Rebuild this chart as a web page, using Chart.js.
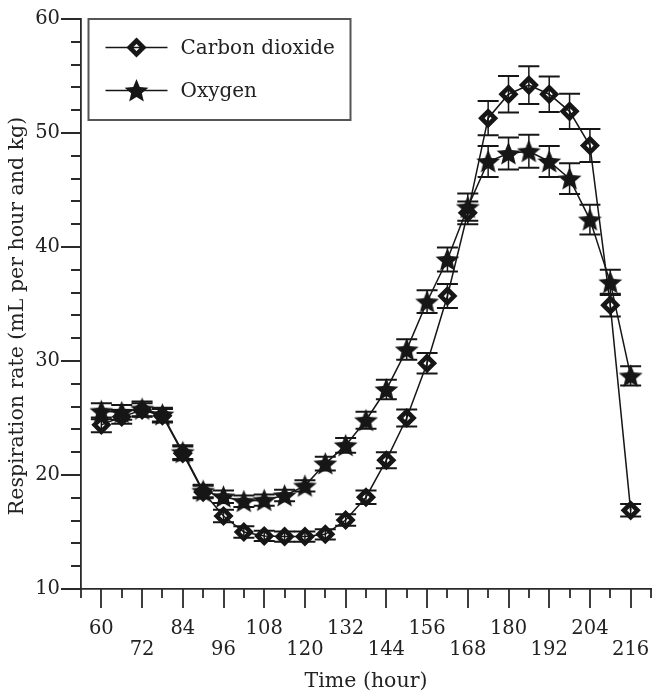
<!DOCTYPE html>
<html><head><meta charset="utf-8">
<script src="https://cdn.jsdelivr.net/npm/chart.js@4.4.1/dist/chart.umd.min.js"></script>
<style>html,body{margin:0;padding:0;background:#fff}#wrap{width:653px;height:695px}</style>
</head><body><div id="wrap"><canvas id="c" width="653" height="695"></canvas></div>
<script>
const hours = [60,66,72,78,84,90,96,102,108,114,120,126,132,138,144,150,156,162,168,174,180,186,192,198,204,210,216];
const co2 = [24.4,25.1,25.7,25.2,21.9,18.5,16.4,15.0,14.65,14.6,14.6,14.8,16.05,18.05,21.3,25.0,29.8,35.7,43.0,51.3,53.4,54.2,53.4,51.9,48.9,34.9,16.9];
const co2Err = [0.65,0.6,0.6,0.6,0.6,0.55,0.55,0.5,0.45,0.45,0.45,0.45,0.5,0.6,0.7,0.75,0.9,1.05,1.0,1.5,1.6,1.65,1.55,1.55,1.45,1.0,0.55];
const o2 = [25.6,25.5,25.8,25.3,22.0,18.6,18.1,17.7,17.8,18.2,19.05,21.0,22.6,24.8,27.5,31.0,35.2,38.9,43.5,47.5,48.2,48.4,47.5,46.0,42.4,36.9,28.7];
const o2Err = [0.7,0.65,0.65,0.6,0.6,0.55,0.55,0.5,0.5,0.5,0.5,0.6,0.65,0.75,0.85,0.9,1.0,1.05,1.2,1.35,1.4,1.45,1.35,1.35,1.3,1.1,0.85];
const xTickValues = [60,72,84,96,108,120,132,144,156,168,180,192,204,216];
const yTickValues = [10,20,30,40,50,60];
const seriesNames = ['Carbon dioxide','Oxygen'];
const xTitle = 'Time (hour)';
const yTitle = 'Respiration rate (mL per hour and kg)';

const INK = '#161616';
const FONT = 'DejaVu Serif';

function makeStar(R, r) {
  const s = Math.ceil(R * 2 + 2);
  const c = document.createElement('canvas');
  c.width = s; c.height = s;
  const g = c.getContext('2d');
  g.beginPath();
  for (let i = 0; i < 10; i++) {
    const a = -Math.PI / 2 + i * Math.PI / 5;
    const rad = i % 2 ? r : R;
    g.lineTo(s / 2 + rad * Math.cos(a), s / 2 + 1 + rad * Math.sin(a));
  }
  g.closePath();
  g.fillStyle = INK;
  g.fill();
  return c;
}
const starImg = makeStar(12.5, 5.6);

function drawDiamond(ctx, x, y) {
  const r = 6.8;
  ctx.save();
  ctx.beginPath();
  ctx.moveTo(x, y - r); ctx.lineTo(x + r, y); ctx.lineTo(x, y + r); ctx.lineTo(x - r, y); ctx.closePath();
  ctx.lineWidth = 4.6; ctx.strokeStyle = INK; ctx.lineJoin = 'miter';
  ctx.stroke();
  ctx.restore();
}

const decor = {
  id: 'decor',
  beforeDatasetsDraw(chart) {
    const {ctx, scales: {x, y}} = chart;
    ctx.save();
    ctx.strokeStyle = INK;
    const sets = [[co2, co2Err], [o2, o2Err]];
    sets.forEach(([vals, errs]) => {
      hours.forEach((h, i) => {
        const px = x.getPixelForValue(h);
        const top = y.getPixelForValue(vals[i] + errs[i]);
        const bot = y.getPixelForValue(vals[i] - errs[i]);
        ctx.lineWidth = 1.5;
        ctx.beginPath(); ctx.moveTo(px, top); ctx.lineTo(px, bot); ctx.stroke();
        ctx.lineWidth = 2;
        ctx.beginPath();
        ctx.moveTo(px - 10.5, top); ctx.lineTo(px + 10.5, top);
        ctx.moveTo(px - 10.5, bot); ctx.lineTo(px + 10.5, bot);
        ctx.stroke();
      });
    });
    ctx.restore();
  },
  afterDraw(chart) {
    const {ctx, chartArea: a, scales: {x, y}} = chart;
    ctx.save();
    ctx.strokeStyle = '#2a2a2a';
    ctx.lineWidth = 1.8;
    ctx.beginPath();
    for (let h = x.min; h <= x.max + 0.001; h += 6) {
      const px = Math.round(x.getPixelForValue(h));
      const len = ((h - 60) % 12 === 0) ? 19 : 9;
      ctx.moveTo(px, a.bottom); ctx.lineTo(px, a.bottom + len);
    }
    for (let v = y.min; v <= y.max + 0.001; v += 2) {
      const py = Math.round(y.getPixelForValue(v));
      const len = (v % 10 === 0) ? 20 : 10;
      ctx.moveTo(a.left - len, py); ctx.lineTo(a.left, py);
    }
    ctx.stroke();

    ctx.fillStyle = '#222';
    ctx.font = '20.5px "' + FONT + '"';
    ctx.textAlign = 'center';
    ctx.textBaseline = 'middle';
    ctx.save();
    ctx.translate(18, 316);
    ctx.rotate(-Math.PI / 2);
    ctx.fillText(yTitle, 0, 0);
    ctx.restore();

    const bx = a.left + 7.5, by = a.top, bw = 262, bh = 101;
    ctx.lineWidth = 2;
    ctx.strokeStyle = '#555';
    ctx.strokeRect(bx, by, bw, bh);
    const rows = [by + 28.5, by + 71.5];
    ctx.strokeStyle = INK;
    ctx.lineWidth = 1.5;
    ctx.font = '20px "' + FONT + '"';
    rows.forEach((ry, i) => {
      ctx.beginPath(); ctx.moveTo(bx + 17, ry); ctx.lineTo(bx + 79, ry); ctx.stroke();
      const cx = bx + 48;
      if (i === 0) drawDiamond(ctx, cx, ry);
      else ctx.drawImage(starImg, cx - starImg.width / 2, ry - starImg.height / 2);
      ctx.fillStyle = '#222';
      ctx.textAlign = 'left';
      ctx.textBaseline = 'middle';
      ctx.fillText(seriesNames[i], bx + 92, ry + 1);
    });
    ctx.restore();
  }
};

new Chart(document.getElementById('c'), {
  type: 'line',
  data: {
    datasets: [
      {
        label: seriesNames[0],
        data: hours.map((h, i) => ({x: h, y: co2[i]})),
        borderColor: INK, borderWidth: 1.5, tension: 0, fill: false,
        pointStyle: 'rectRot', pointRadius: 6.8, pointBorderWidth: 4.6,
        pointBackgroundColor: 'rgba(0,0,0,0)', pointBorderColor: INK
      },
      {
        label: seriesNames[1],
        data: hours.map((h, i) => ({x: h, y: o2[i]})),
        borderColor: INK, borderWidth: 1.5, tension: 0, fill: false,
        pointStyle: starImg, pointRadius: 12
      }
    ]
  },
  options: {
    responsive: false,
    animation: false,
    devicePixelRatio: 1,
    layout: {autoPadding: false, padding: {top: 19, right: 2, left: 0, bottom: 0}},
    plugins: {legend: {display: false}, tooltip: {enabled: false}},
    scales: {
      x: {
        type: 'linear', min: 54, max: 222,
        afterBuildTicks: (axis) => { axis.ticks = xTickValues.map(v => ({value: v})); },
        afterFit: (s) => { s.height = 106; s.paddingLeft = 0; s.paddingRight = 0; s.paddingTop = 0; s.paddingBottom = 0; },
        grid: {display: false, drawTicks: false},
        border: {display: true, color: '#2a2a2a', width: 1.8},
        ticks: {
          autoSkip: false, maxRotation: 0, padding: 29,
          color: '#222', font: {family: FONT, size: 19.5, lineHeight: 1.08},
          callback: (v, i) => (i % 2 === 0 ? [String(v), ''] : ['', String(v)])
        },
        title: {display: true, text: xTitle, color: '#222', font: {family: FONT, size: 20.5, lineHeight: 1.2}, padding: {top: 0, bottom: 1}}
      },
      y: {
        type: 'linear', min: 10, max: 60,
        afterBuildTicks: (axis) => { axis.ticks = yTickValues.map(v => ({value: v})); },
        afterFit: (s) => { s.width = 81; s.paddingLeft = 0; s.paddingRight = 0; s.paddingTop = 0; s.paddingBottom = 0; },
        grid: {display: false, drawTicks: false},
        border: {display: true, color: '#2a2a2a', width: 1.8},
        ticks: {padding: 21, color: '#222', font: {family: FONT, size: 19.5}}
      }
    }
  },
  plugins: [decor]
});
</script>
</body></html>
